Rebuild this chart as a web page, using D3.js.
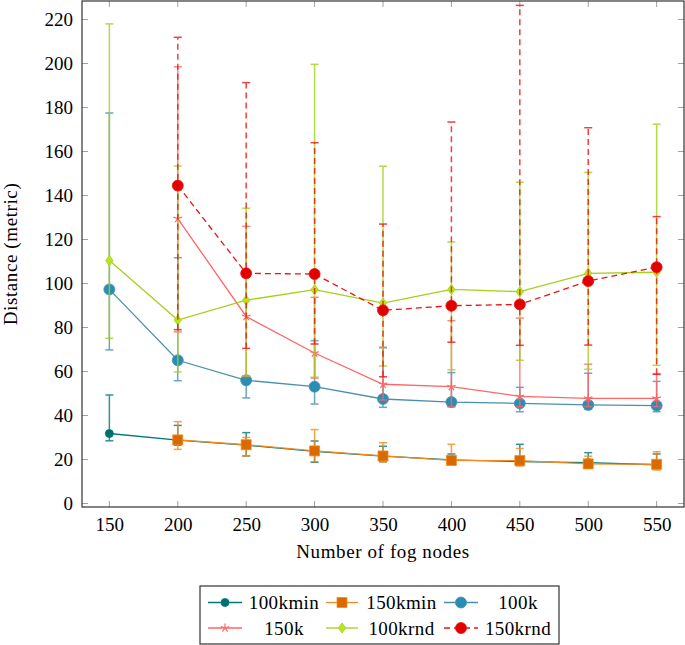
<!DOCTYPE html>
<html><head><meta charset="utf-8">
<script src="https://cdn.jsdelivr.net/npm/d3@7"></script>
<style>
body{margin:0;background:#fff;}
svg text{font-family:"Liberation Serif","DejaVu Serif","Times New Roman",serif !important;fill:#000;}
</style></head>
<body><svg id="c" width="685" height="645"></svg>
<script>
const xs = [150,200,250,300,350,400,450,500,550];
const xTicks = [150,200,250,300,350,400,450,500,550];
const yTicks = [0,20,40,60,80,100,120,140,160,180,200,220];

const kmin100 = [31.8,28.8,26.5,23.7,21.5,19.8,19.0,18.6,17.6];
const kmin100Hi = [49.3,35.5,32.2,28.4,26.0,22.5,26.9,23.1,22.5];
const kmin100Lo = [28.5,26.5,21.6,18.7,19.0,18.0,17.5,16.8,16.0];

const kmin150 = [null,28.9,26.7,23.9,21.6,19.6,19.5,18.0,17.8];
const kmin150Hi = [null,37.2,30.0,33.6,27.6,26.9,25.0,21.5,23.5];
const kmin150Lo = [null,24.6,21.6,19.0,18.9,17.5,17.0,16.0,15.2];

const k100 = [97.3,65.1,56.0,53.1,47.5,46.1,45.5,44.8,44.5];
const k100Hi = [177.5,111.7,58.0,74.0,70.8,59.5,52.8,59.2,55.5];
const k100Lo = [69.8,55.8,48.0,45.2,43.7,44.0,41.7,42.8,41.7];

const k150 = [null,129.5,85.0,68.4,54.2,53.1,48.7,47.8,47.8];
const k150Hi = [null,198.5,126.0,93.7,71.0,83.1,84.3,63.3,59.0];
const k150Lo = [null,78.0,57.6,57.0,47.0,44.0,44.0,44.0,44.0];

const krnd100 = [110.4,83.4,92.4,97.2,91.1,97.3,96.3,104.6,105.1];
const krnd100Hi = [218.0,153.4,134.2,199.6,153.3,118.9,146.0,150.5,172.4];
const krnd100Lo = [75.1,59.8,58.0,57.4,62.5,60.8,65.1,61.0,62.8];

const krnd150 = [null,144.5,104.6,104.3,87.8,89.9,90.5,101.1,107.4];
const krnd150Hi = [null,211.9,191.3,164.0,127.0,173.4,226.4,170.8,130.4];
const krnd150Lo = [null,79.0,70.5,72.5,57.6,73.3,71.9,72.0,58.7];

const names = ["100kmin","150kmin","100k","150k","100krnd","150krnd"];

const series = [
  {name:names[0], v:kmin100, hi:kmin100Hi, lo:kmin100Lo, color:"#00797a", fill:"#00706e", mark:"circle", r:4, dash:null},
  {name:names[1], v:kmin150, hi:kmin150Hi, lo:kmin150Lo, color:"#f28a1e", fill:"#d96a00", mark:"square", r:5, dash:null},
  {name:names[2], v:k100, hi:k100Hi, lo:k100Lo, color:"#4a90ad", fill:"#2a8db3", mark:"circle", r:5.5, dash:null},
  {name:names[3], v:k150, hi:k150Hi, lo:k150Lo, color:"#ff6666", fill:"#ff6666", mark:"star", r:4.5, dash:null},
  {name:names[4], v:krnd100, hi:krnd100Hi, lo:krnd100Lo, color:"#a3d11a", fill:"#b6e61c", mark:"diamond", r:5, dash:null},
  {name:names[5], v:krnd150, hi:krnd150Hi, lo:krnd150Lo, color:"#ee1111", fill:"#e00000", mark:"circle", r:5.5, dash:"6,4"}
];

const FS = 19;
const L=82, R=684, T=1, B=507;
const x = d3.scaleLinear().domain([130,570]).range([L,R]);
const y = d3.scaleLinear().domain([-1.6,228.4]).range([B,T]);
const svg = d3.select("#c");

// ticks (inside, gray)
const tg = svg.append("g").attr("stroke","#a0a0a0").attr("stroke-width",1);
xTicks.forEach(t=>{
  tg.append("line").attr("x1",x(t)).attr("x2",x(t)).attr("y1",B).attr("y2",B-6);
  tg.append("line").attr("x1",x(t)).attr("x2",x(t)).attr("y1",T).attr("y2",T+6);
});
yTicks.forEach(t=>{
  tg.append("line").attr("y1",y(t)).attr("y2",y(t)).attr("x1",L).attr("x2",L+6);
  tg.append("line").attr("y1",y(t)).attr("y2",y(t)).attr("x1",R).attr("x2",R-6);
});

const xa = svg.append("g").attr("transform",`translate(0,${B})`)
  .call(d3.axisBottom(x).tickValues(xTicks).tickSize(0).tickPadding(8).tickFormat(d3.format("d")));
xa.select(".domain").remove();
xa.attr("font-family",null).attr("font-size",null);
xa.selectAll("text").attr("font-size",FS).attr("dy","0.85em");
const ya = svg.append("g").attr("transform",`translate(${L},0)`)
  .call(d3.axisLeft(y).tickValues(yTicks).tickSize(0).tickPadding(9).tickFormat(d3.format("d")));
ya.select(".domain").remove();
ya.attr("font-family",null).attr("font-size",null);
ya.selectAll("text").attr("font-size",FS);

svg.append("clipPath").attr("id","clip").append("rect").attr("x",L).attr("y",T).attr("width",R-L).attr("height",B-T);
const plot = svg.append("g").attr("clip-path","url(#clip)");

function markPath(m, r){
  if(m==="circle") return d3.symbol(d3.symbolCircle, Math.PI*r*r)();
  if(m==="square") return `M${-r},${-r}H${r}V${r}H${-r}Z`;
  if(m==="diamond") return `M0,${-r}L${r*0.75},0L0,${r}L${-r*0.75},0Z`;
  if(m==="star"){
    let p="";
    for(let i=0;i<5;i++){const a=-Math.PI/2+i*2*Math.PI/5;p+=`M0,0L${(r*Math.cos(a)).toFixed(2)},${(r*Math.sin(a)).toFixed(2)}`;}
    return p;
  }
}

const line = d3.line().defined(d=>d.v!=null).x(d=>x(d.x)).y(d=>y(d.v));

series.forEach(s=>{
  const pts = xs.map((xv,i)=>({x:xv,v:s.v[i],hi:s.hi[i],lo:s.lo[i]})).filter(d=>d.v!=null);
  const g = plot.append("g");
  const eb = g.append("g").attr("stroke",s.color).attr("stroke-width",1.5).attr("opacity",0.8);
  pts.forEach(d=>{
    eb.append("line").attr("x1",x(d.x)).attr("x2",x(d.x)).attr("y1",y(d.lo)).attr("y2",y(d.hi))
      .attr("stroke-dasharray",s.dash);
    eb.append("line").attr("x1",x(d.x)-4).attr("x2",x(d.x)+4).attr("y1",y(d.hi)).attr("y2",y(d.hi));
    eb.append("line").attr("x1",x(d.x)-4).attr("x2",x(d.x)+4).attr("y1",y(d.lo)).attr("y2",y(d.lo));
  });
  g.append("path").datum(pts).attr("d",line).attr("fill","none").attr("stroke",s.color)
    .attr("stroke-width",1.3).attr("stroke-dasharray",s.dash);
  g.selectAll(".m").data(pts).enter().append("path")
    .attr("transform",d=>`translate(${x(d.x)},${y(d.v)})`)
    .attr("d",markPath(s.mark,s.r))
    .attr("fill",s.mark==="star"?"none":s.fill)
    .attr("stroke",s.color).attr("stroke-width",s.mark==="star"?1.2:0.8);
});

svg.append("rect").attr("x",L).attr("y",T).attr("width",R-L).attr("height",B-T)
  .attr("fill","none").attr("stroke","#333").attr("stroke-width",1.2);

svg.append("text").attr("x",(L+R)/2).attr("y",558).attr("text-anchor","middle")
  .attr("font-size",FS).attr("letter-spacing","0.6px").text("Number of fog nodes");
svg.append("text").attr("transform",`translate(17,${(T+B)/2}) rotate(-90)`).attr("text-anchor","middle")
  .attr("font-size",FS).attr("letter-spacing","0.6px").text("Distance (metric)");

const lg = svg.append("g");
lg.append("rect").attr("x",200).attr("y",586).attr("width",359).attr("height",58)
  .attr("fill","#fff").attr("stroke","#333").attr("stroke-width",1.2);
const colSample = [[208,242],[326,358],[444,478]];
const colText = [284,401.5,518];
const rowY = [602.5,628];
series.forEach((s,i)=>{
  const c=i%3, r=Math.floor(i/3);
  const [a,b]=colSample[c]; const yy=rowY[r];
  lg.append("line").attr("x1",a).attr("x2",b).attr("y1",yy).attr("y2",yy)
    .attr("stroke",s.color).attr("stroke-width",1.3).attr("stroke-dasharray",s.dash);
  lg.append("path").attr("transform",`translate(${(a+b)/2},${yy})`).attr("d",markPath(s.mark,s.r))
    .attr("fill",s.mark==="star"?"none":s.fill).attr("stroke",s.color).attr("stroke-width",s.mark==="star"?1.2:0.8);
  lg.append("text").attr("x",colText[c]).attr("y",yy).attr("dy","0.35em").attr("text-anchor","middle")
    .attr("font-size",FS).attr("letter-spacing","0.4px").text(s.name);
});
</script></body></html>
